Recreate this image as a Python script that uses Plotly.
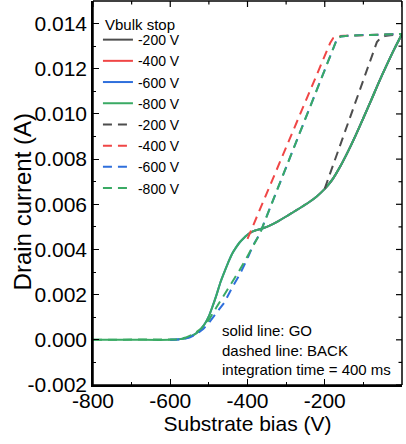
import plotly.graph_objects as go

# ---------------- data ----------------
stops = [-200, -400, -600, -800]
stop_labels = ["-200 V", "-400 V", "-600 V", "-800 V"]
legend_title = "Vbulk stop"

go_bias = [0, -20, -40, -60, -80, -100, -120, -140, -160, -180, -200, -220, -240, -260,
           -280, -300, -320, -340, -360, -380, -390, -400, -410, -420, -430, -440, -450,
           -460, -470, -480, -490, -500, -510, -523, -535, -549, -560, -580, -600, -700, -800]
go_current = [0.01354, 0.01287, 0.01215, 0.01140, 0.01060, 0.00982, 0.00905, 0.00833,
              0.00767, 0.00710, 0.00668, 0.00636, 0.00610, 0.00588, 0.00567, 0.00546,
              0.00526, 0.00508, 0.00494, 0.00484, 0.00477, 0.00465, 0.00450, 0.00432,
              0.00408, 0.00380, 0.00342, 0.00300, 0.00255, 0.00200, 0.00150, 0.00105,
              0.00072, 0.00043, 0.00026, 0.00014, 0.00007, 0.00002, 0.0, 0.0, 0.0]

back200_bias = [-200, -180, -160, -140, -120, -100, -80, -65, -55, -45, -30, 0]
back200_current = [0.00670, 0.00767, 0.00864, 0.00961, 0.01058, 0.01155, 0.01252,
                   0.01318, 0.01338, 0.01345, 0.01348, 0.01354]

back400_bias = [-400, -360, -320, -280, -240, -200, -186, -178, -168, -150, -100, -50, 0]
back400_current = [0.00447, 0.00609, 0.00771, 0.00933, 0.01095, 0.01257, 0.01314,
                   0.01336, 0.01344, 0.01346, 0.01349, 0.01351, 0.01354]

back600_bias = [-600, -570, -550, -530, -514, -500, -480, -460, -440, -420, -400, -385,
                -368, -330, -290, -250, -210, -176, -168, -158, -140, -100, -50, 0]
back600_current = [0.0, 0.00002, 0.00010, 0.00027, 0.00049, 0.00075, 0.00120, 0.00165,
                   0.00230, 0.00290, 0.00360, 0.00420, 0.00470, 0.00635, 0.00809,
                   0.00983, 0.01157, 0.01305, 0.01333, 0.01343, 0.01346, 0.01349,
                   0.01351, 0.01354]

back800_bias = [-800, -700, -600, -580, -560, -540, -520, -500, -480, -460, -440, -420,
                -400, -385, -368, -330, -290, -250, -210, -176, -168, -158, -140, -100,
                -50, 0]
back800_current = [0.0, 0.0, 0.0, 0.00002, 0.00010, 0.00025, 0.00050, 0.00088, 0.00145,
                   0.00200, 0.00250, 0.00310, 0.00370, 0.00420, 0.00470, 0.00635,
                   0.00809, 0.00983, 0.01157, 0.01305, 0.01333, 0.01343, 0.01346,
                   0.01349, 0.01351, 0.01354]

x_tick_vals = [-800, -600, -400, -200, 0]
x_tick_labels = ["-800", "-600", "-400", "-200", "0"]
x_minor_vals = [-700, -500, -300, -100]
y_tick_vals = [-0.002, 0.0, 0.002, 0.004, 0.006, 0.008, 0.010, 0.012, 0.014]
y_tick_labels = ["-0.002", "0.000", "0.002", "0.004", "0.006", "0.008", "0.010",
                 "0.012", "0.014"]
y_minor_vals = [-0.001, 0.001, 0.003, 0.005, 0.007, 0.009, 0.011, 0.013]

notes = ["solid line: GO", "dashed line: BACK", "integration time = 400 ms"]

# ---------------- figure ----------------
colors = ["#4D4D4D", "#F04646", "#2F6FDC", "#3AAA64"]
FONT = "Arial, Liberation Sans, sans-serif"
W, H = 406, 444
ML, MR, MT, MB = 93, 4, 1, 59
PW, PH = W - ML - MR, H - MT - MB
MAJ, MIN = 6, 3.5

fig = go.Figure()

for stop, lab, col in zip(stops, stop_labels, colors):
    xs = [b for b in go_bias if b >= stop]
    ys = [c for b, c in zip(go_bias, go_current) if b >= stop]
    fig.add_trace(go.Scatter(x=xs, y=ys, mode="lines", name=lab,
                             line=dict(color=col, width=2, shape="spline", smoothing=0.8)))

backs = [(back200_bias, back200_current), (back400_bias, back400_current),
         (back600_bias, back600_current), (back800_bias, back800_current)]
for (bx, by), lab, col in zip(backs, stop_labels, colors):
    fig.add_trace(go.Scatter(x=bx, y=by, mode="lines", name=lab,
                             line=dict(color=col, width=2, dash="9px,6px")))

for i, t in enumerate(notes):
    fig.add_annotation(text=t, xref="paper", yref="paper", x=0.412, y=0.141 - i * 0.0502,
                       xanchor="left", yanchor="middle", showarrow=False,
                       font=dict(family=FONT, size=15, color="black"))

fig.add_annotation(text=legend_title, xref="paper", yref="paper", x=0.033, y=0.940,
                   xanchor="left", yanchor="middle", showarrow=False,
                   font=dict(family=FONT, size=15, color="black"))

fig.add_annotation(text="Drain current (A)", xref="paper", yref="paper", x=-0.228, y=0.477,
                   xanchor="center", yanchor="middle", showarrow=False, textangle=-90,
                   font=dict(family=FONT, size=24, color="black"))

# frame (each side as a single straight segment) and mirrored ticks on top/right
frame = dict(color="black", width=1.5)
for (x0, y0, x1, y1) in [(0, 0, 1, 0), (0, 1, 1, 1), (0, 0, 0, 1), (1, 0, 1, 1)]:
    fig.add_shape(type="line", xref="paper", yref="paper", x0=x0, y0=y0, x1=x1, y1=y1,
                  line=frame, layer="above")
tick_line = dict(color="black", width=1.2)
for v in x_tick_vals + x_minor_vals:
    ln = MAJ if v in x_tick_vals else MIN
    fig.add_shape(type="line", xref="x", yref="paper", x0=v, x1=v, y0=1, y1=1 - ln / PH,
                  line=tick_line, layer="above")
for v in y_tick_vals + y_minor_vals:
    ln = MAJ if v in y_tick_vals else MIN
    fig.add_shape(type="line", xref="paper", yref="y", x0=1, x1=1 - ln / PW, y0=v, y1=v,
                  line=tick_line, layer="above")

axis_common = dict(showline=True, linecolor="black", linewidth=1.5, mirror=False,
                   ticks="inside", ticklen=MAJ, tickwidth=1.2, tickcolor="black",
                   showgrid=False, zeroline=False, automargin=False,
                   tickfont=dict(family=FONT, size=21, color="black"))

fig.update_xaxes(range=[-800, 0], tickmode="array", tickvals=x_tick_vals,
                 ticktext=x_tick_labels, ticklabelstandoff=-4,
                 minor=dict(ticks="inside", ticklen=MIN, tickcolor="black", tickwidth=1.2,
                            tickmode="array", tickvals=x_minor_vals),
                 title=dict(text="Substrate bias (V)", standoff=4,
                            font=dict(family=FONT, size=21, color="black")),
                 **axis_common)
fig.update_yaxes(range=[-0.002, 0.015], tickmode="array", tickvals=y_tick_vals,
                 ticktext=y_tick_labels,
                 minor=dict(ticks="inside", ticklen=MIN, tickcolor="black", tickwidth=1.2,
                            tickmode="array", tickvals=y_minor_vals),
                 **axis_common)

fig.update_layout(
    width=W, height=H,
    margin=dict(l=ML, r=MR, t=MT, b=MB),
    plot_bgcolor="white", paper_bgcolor="white",
    font=dict(family=FONT, color="black"),
    showlegend=True,
    legend=dict(x=0.016, y=0.940, xanchor="left", yanchor="top",
                bgcolor="rgba(0,0,0,0)", borderwidth=0,
                font=dict(family=FONT, size=14, color="black")),
)

fig.write_html("out.html", config={"displayModeBar": False},
               post_script="document.body.style.margin='0';document.body.style.overflow='hidden';")
